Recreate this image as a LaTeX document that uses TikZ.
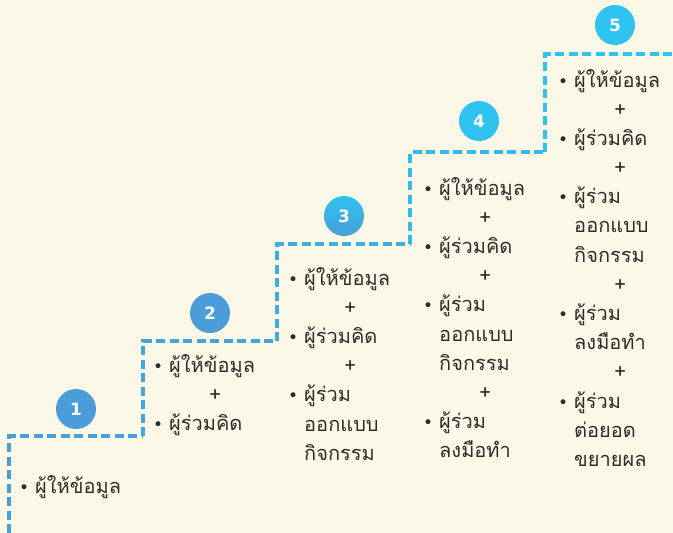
\documentclass[tikz,border=0pt]{standalone}
\usepackage{fontspec}
\newfontfamily\thai[Script=Thai]{Loma}
\newfontfamily\dejavu{DejaVu Sans}
\usetikzlibrary{shadings}
\definecolor{bgcream}{HTML}{FBF8E7}
\definecolor{stepblue}{HTML}{4A9DD8}
\definecolor{stepcyan}{HTML}{2EC3F0}
\definecolor{txtgray}{HTML}{2C2C2C}
\newcommand\bul{{\dejavu\fontsize{17}{17}\selectfont •}}
\newcommand\plusrow{& \multicolumn{1}{c@{}}{+}\\}
\begin{document}
\begin{tikzpicture}[x=1pt,y=-1pt,
  stair/.style={line width=3.2pt,dash pattern=on 9pt off 4.5pt},
  numcirc/.style={circle,minimum size=40pt,inner sep=0pt,text=white,font=\dejavu\bfseries\fontsize{17}{17}\selectfont},
  itemlist/.style={anchor=base west,inner sep=0pt,text=txtgray,font=\thai\fontsize{20}{29.2}\selectfont}]
\fill[bgcream] (0,0) rectangle (673,533);
\useasboundingbox (0,0) rectangle (673,533);
% staircase
\draw[stair,stepblue] (9,533) -- (9,436) -- (143,436);
\draw[stair,stepcyan!20!stepblue] (143,436) -- (143,341) -- (277,341);
\draw[stair,stepcyan!45!stepblue] (277,341) -- (277,244) -- (410,244);
\draw[stair,stepcyan!75!stepblue] (410,244) -- (410,152) -- (545,152);
\draw[stair,stepcyan] (545,152) -- (545,54) -- (673,54);
% number circles
\node[numcirc,fill=stepblue] (c1) at (76,409) {1};
\node[numcirc,fill=stepblue] (c2) at (210,313) {2};
\node[numcirc,top color=stepcyan,bottom color=stepblue] (c3) at (344,216) {3};
\node[numcirc,fill=stepcyan] (c4) at (479,121) {4};
\node[numcirc,fill=stepcyan] (c5) at (615,25) {5};
% item lists
\node[itemlist] (t1) at (19,493) {\begin{tabular}[t]{@{}c@{\hspace{6pt}}l@{}}
\bul & ผู้ให้ข้อมูล
\end{tabular}};
\node[itemlist] (t2) at (153,372) {\begin{tabular}[t]{@{}c@{\hspace{6pt}}l@{}}
\bul & ผู้ให้ข้อมูล\\
\plusrow
\bul & ผู้ร่วมคิด
\end{tabular}};
\node[itemlist] (t3) at (288,285) {\begin{tabular}[t]{@{}c@{\hspace{6pt}}l@{}}
\bul & ผู้ให้ข้อมูล\\
\plusrow
\bul & ผู้ร่วมคิด\\
\plusrow
\bul & ผู้ร่วม\\
 & ออกแบบ\\
 & กิจกรรม
\end{tabular}};
\node[itemlist] (t4) at (423,195) {\begin{tabular}[t]{@{}c@{\hspace{6pt}}l@{}}
\bul & ผู้ให้ข้อมูล\\
\plusrow
\bul & ผู้ร่วมคิด\\
\plusrow
\bul & ผู้ร่วม\\
 & ออกแบบ\\
 & กิจกรรม\\
\plusrow
\bul & ผู้ร่วม\\
 & ลงมือทำ
\end{tabular}};
\node[itemlist] (t5) at (558,87) {\begin{tabular}[t]{@{}c@{\hspace{6pt}}l@{}}
\bul & ผู้ให้ข้อมูล\\
\plusrow
\bul & ผู้ร่วมคิด\\
\plusrow
\bul & ผู้ร่วม\\
 & ออกแบบ\\
 & กิจกรรม\\
\plusrow
\bul & ผู้ร่วม\\
 & ลงมือทำ\\
\plusrow
\bul & ผู้ร่วม\\
 & ต่อยอด\\
 & ขยายผล
\end{tabular}};
\end{tikzpicture}
\end{document}
